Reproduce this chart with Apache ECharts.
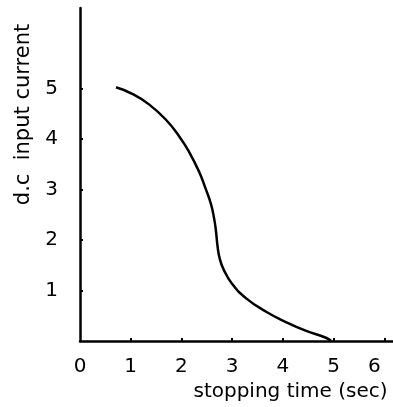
<!DOCTYPE html>
<html><head><meta charset="utf-8">
<script src="https://cdn.jsdelivr.net/npm/echarts@6/dist/echarts.min.js"></script>
<style>html,body{margin:0;padding:0;background:#fff}#c{width:393px;height:407px}</style>
</head><body><div id="c"></div>
<script>
const xTicks = [0, 1, 2, 3, 4, 5, 6];
const yTicks = [1, 2, 3, 4, 5];
const stoppingTime = [0.71, 1.03, 1.36, 1.69, 1.96, 2.15, 2.35, 2.48, 2.58, 2.64, 2.68, 2.71, 2.75, 2.83, 3.0, 3.27, 3.67, 4.07, 4.46, 4.86, 4.95];
const dcCurrent   = [5.03, 4.90, 4.69, 4.39, 4.05, 3.75, 3.35, 3.01, 2.72, 2.45, 2.18, 1.89, 1.65, 1.42, 1.13, 0.85, 0.58, 0.37, 0.20, 0.06, 0.0];
const xName = 'stopping time (sec)';
const yName = 'd.c  input current';

const font = 'DejaVu Sans';
const chart = echarts.init(document.getElementById('c'));
chart.setOption({
  animation: false,
  backgroundColor: '#fff',
  grid: {left: 80, right: 0, top: 8, bottom: 66},
  xAxis: {
    type: 'value', min: 0, max: 6.17, interval: 1,
    axisLine: {lineStyle: {color: '#000', width: 2.5}},
    axisTick: {inside: true, length: 3, lineStyle: {color: '#000', width: 2}, customValues: [1, 2, 3, 4, 5, 6]},
    splitLine: {show: false},
    axisLabel: {color: '#000', fontFamily: font, fontSize: 20, margin: 16,
      customValues: xTicks,
      formatter: v => v === 6 ? '{s|6}' : String(v),
      rich: {s: {fontFamily: font, fontSize: 20, color: '#000', padding: [0, 20, 0, 0]}}},
    name: xName, nameLocation: 'middle', nameGap: 40,
    nameTextStyle: {color: '#000', fontFamily: font, fontSize: 20, padding: [0, 0, 0, 108]}
  },
  yAxis: {
    type: 'value', min: 0, max: 6.6, interval: 1,
    axisLine: {lineStyle: {color: '#000', width: 2.5}},
    axisTick: {inside: true, length: 3, lineStyle: {color: '#000', width: 2}, customValues: yTicks},
    splitLine: {show: false},
    axisLabel: {color: '#000', fontFamily: font, fontSize: 20, margin: 22, customValues: yTicks},
    name: yName, nameLocation: 'middle', nameGap: 46, nameRotate: 90,
    nameTextStyle: {color: '#000', fontFamily: font, fontSize: 21, padding: [0, 0, 0, 120]}
  },
  series: [{
    type: 'line', smooth: 0.5, symbol: 'none',
    lineStyle: {color: '#000', width: 2.5},
    data: stoppingTime.map((x, i) => [x, dcCurrent[i]])
  }]
});
</script></body></html>
